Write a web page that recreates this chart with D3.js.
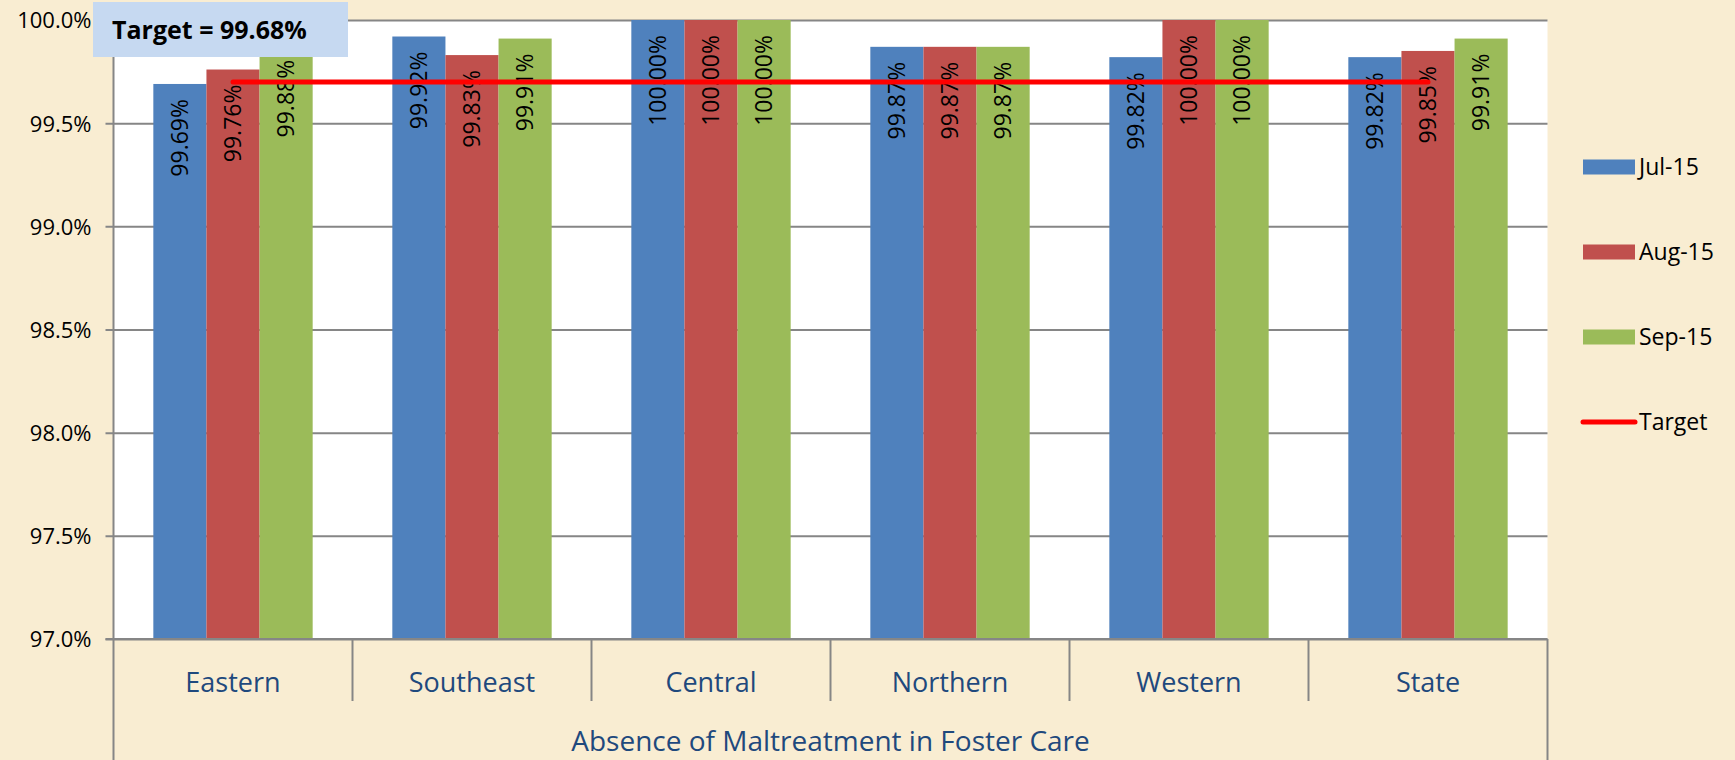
<!DOCTYPE html>
<html>
<head>
<meta charset="utf-8">
<script src="https://d3js.org/d3.v7.min.js"></script>
<style>
    html, body { margin: 0; padding: 0; background: #f9edd2; }
    svg { display: block; }
</style>
</head>
<body>
<div id="chart"></div>
<script>
'use strict';

var categories = ["Eastern", "Southeast", "Central", "Northern", "Western", "State"];
var seriesNames = ["Jul-15", "Aug-15", "Sep-15"];
var jul15 = [99.69, 99.92, 100.00, 99.87, 99.82, 99.82];
var aug15 = [99.76, 99.83, 100.00, 99.87, 100.00, 99.85];
var sep15 = [99.88, 99.91, 100.00, 99.87, 100.00, 99.91];
var target = [99.70, 99.70, 99.70, 99.70, 99.70, 99.70];
var yTicks = [97.0, 97.5, 98.0, 98.5, 99.0, 99.5, 100.0];
var axisTitle = "Absence of Maltreatment in Foster Care";
var targetNote = "Target = 99.68%";

var seriesValues = [jul15, aug15, sep15];
var seriesColors = ["#4f81bd", "#c0504d", "#9bbb59"];

var width = 1735, height = 760;
var font = "'Open Sans', 'Liberation Sans', sans-serif";
var plot = {left: 113.5, right: 1547.5, top: 20, bottom: 639};

var svg = d3.select("#chart").append("svg")
    .attr("width", width).attr("height", height);

var x0 = d3.scaleBand().domain(categories)
    .range([plot.left, plot.right]).paddingInner(0).paddingOuter(0);
var x1 = d3.scaleBand().domain(seriesNames)
    .range([0, x0.bandwidth()]).paddingInner(0).paddingOuter(0.75);
var y = d3.scaleLinear().domain([97, 100]).range([plot.bottom, plot.top]);

setupBackground();
setupBars();
setupTargetLine();
setupCategoryAxis();
setupLegend();
setupTargetNote();

function setupBackground() {
    svg.append("rect")
        .attr("x", 0).attr("y", 0)
        .attr("width", width).attr("height", height)
        .attr("fill", "#f9edd2");

    svg.append("rect")
        .attr("x", plot.left).attr("y", plot.top)
        .attr("width", plot.right - plot.left).attr("height", plot.bottom - plot.top)
        .attr("fill", "white");

    // gridlines + value axis, ticks stick out 8px to the left
    var yAxis = d3.axisLeft(y)
        .tickValues(yTicks)
        .tickSize(plot.right - plot.left + 8)
        .tickPadding(14)
        .tickFormat(function(d) { return d3.format(".1f")(d) + "%"; });

    var g = svg.append("g")
        .attr("transform", "translate(" + plot.right + ",0)")
        .call(yAxis);
    g.select(".domain").remove();
    g.selectAll(".tick line")
        .attr("stroke", "#868686").attr("stroke-width", 2);
    g.selectAll(".tick text")
        .attr("font-family", font).attr("font-size", "22px")
        .attr("fill", "black").attr("dy", "0.36em");
}

function setupBars() {
    for (var s = 0; s < seriesNames.length; s++) {
        var vals = seriesValues[s];
        var g = svg.append("g");
        for (var i = 0; i < categories.length; i++) {
            var bx = x0(categories[i]) + x1(seriesNames[s]);
            g.append("rect")
                .attr("x", bx).attr("y", y(vals[i]))
                .attr("width", x1.bandwidth()).attr("height", y(97) - y(vals[i]))
                .attr("fill", seriesColors[s]);

            // data label, rotated, inside end of bar
            var cx = bx + x1.bandwidth() / 2;
            var ty = y(vals[i]) + 15;
            g.append("text")
                .text(d3.format(".2f")(vals[i]) + "%")
                .attr("transform", "translate(" + cx + "," + ty + ") rotate(-90)")
                .attr("text-anchor", "end").attr("dy", "0.36em")
                .attr("font-family", font).attr("font-size", "23px")
                .attr("fill", "black");
        }
    }
}

function setupTargetLine() {
    var line = d3.line()
        .x(function(d, i) { return x0(categories[i]) + x0.bandwidth() / 2; })
        .y(function(d) { return y(d); });
    svg.append("path")
        .datum(target)
        .attr("d", line)
        .attr("fill", "none")
        .attr("stroke", "#ff0000").attr("stroke-width", 5)
        .attr("stroke-linecap", "round");
}

function setupCategoryAxis() {
    var axisColor = "#868686";
    svg.append("line")
        .attr("x1", plot.left - 8).attr("y1", plot.bottom)
        .attr("x2", plot.right).attr("y2", plot.bottom)
        .attr("stroke", axisColor).attr("stroke-width", 2);

    // outer lines run all the way down, inner separators stop at 701
    svg.append("line")
        .attr("x1", plot.left).attr("y1", plot.top)
        .attr("x2", plot.left).attr("y2", height)
        .attr("stroke", axisColor).attr("stroke-width", 2);
    svg.append("line")
        .attr("x1", plot.right).attr("y1", plot.bottom)
        .attr("x2", plot.right).attr("y2", height)
        .attr("stroke", axisColor).attr("stroke-width", 2);
    for (var i = 1; i < categories.length; i++) {
        var sx = x0(categories[i]);
        svg.append("line")
            .attr("x1", sx).attr("y1", plot.bottom)
            .attr("x2", sx).attr("y2", 701)
            .attr("stroke", axisColor).attr("stroke-width", 2);
    }

    svg.selectAll("text.cat")
        .data(categories).enter()
        .append("text").attr("class", "cat")
        .text(function(d) { return d; })
        .attr("x", function(d) { return x0(d) + x0.bandwidth() / 2; })
        .attr("y", 682).attr("dy", "0.36em")
        .attr("text-anchor", "middle")
        .attr("font-family", font).attr("font-size", "27px")
        .attr("fill", "#1f497d");

    svg.append("text")
        .text(axisTitle)
        .attr("x", (plot.left + plot.right) / 2).attr("y", 751)
        .attr("text-anchor", "middle")
        .attr("font-family", font).attr("font-size", "28px")
        .attr("fill", "#1f497d");
}

function setupLegend() {
    var rowY = [167, 252, 337, 422];
    for (var s = 0; s < seriesNames.length; s++) {
        svg.append("rect")
            .attr("x", 1583).attr("y", rowY[s] - 7.5)
            .attr("width", 52).attr("height", 15)
            .attr("fill", seriesColors[s]);
        svg.append("text")
            .text(seriesNames[s])
            .attr("x", 1639).attr("y", rowY[s]).attr("dy", "0.36em")
            .attr("font-family", font).attr("font-size", "23px")
            .attr("fill", "black");
    }
    svg.append("line")
        .attr("x1", 1583).attr("y1", rowY[3])
        .attr("x2", 1635).attr("y2", rowY[3])
        .attr("stroke", "#ff0000").attr("stroke-width", 5)
        .attr("stroke-linecap", "round");
    svg.append("text")
        .text("Target")
        .attr("x", 1639).attr("y", rowY[3]).attr("dy", "0.36em")
        .attr("font-family", font).attr("font-size", "23px")
        .attr("fill", "black");
}

function setupTargetNote() {
    svg.append("rect")
        .attr("x", 93).attr("y", 2)
        .attr("width", 255).attr("height", 55)
        .attr("fill", "#c6d9f1");
    svg.append("text")
        .text(targetNote)
        .attr("x", 112).attr("y", 30).attr("dy", "0.36em")
        .attr("font-family", font).attr("font-size", "25px").attr("font-weight", "bold")
        .attr("fill", "black");
}
</script>
</body>
</html>
